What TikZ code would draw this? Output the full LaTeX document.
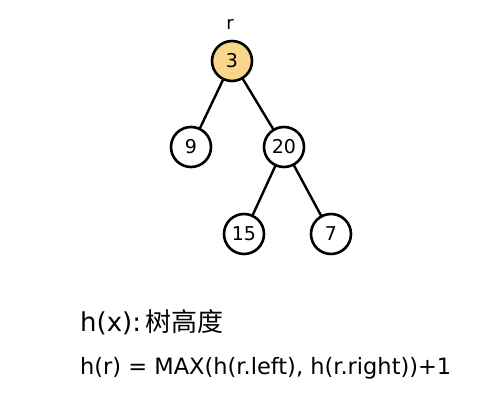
\documentclass[tikz,border=0pt]{standalone}
\usepackage{fontspec}
\setmainfont{DejaVu Sans}
\newfontfamily\cjk{Noto Sans CJK SC}
\definecolor{rootfill}{RGB}{248,214,138}
\begin{document}
\begin{tikzpicture}[x=1pt,y=-1pt,
  tnode/.style={circle,draw=black,line width=2.6pt,minimum size=40pt,inner sep=0pt,fill=white,font=\fontsize{19}{21}\selectfont},
  edge/.style={line width=2.4pt,line cap=round},
  hand/.style={anchor=west,inner sep=0pt}]
\useasboundingbox (0,0) rectangle (490,403);
\node[tnode,fill=rootfill] (r3) at (232,61) {3};
\node[inner sep=0pt,font=\fontsize{18}{20}\selectfont] (rl) at (230,24) {r};
\node[tnode] (n9) at (191,147) {9};
\node[tnode] (n20) at (284,147) {20};
\node[tnode] (n15) at (244,234) {15};
\node[tnode] (n7) at (331,234) {7};
\draw[edge] (r3) -- (n9);
\draw[edge] (r3) -- (n20);
\draw[edge] (n20) -- (n15);
\draw[edge] (n20) -- (n7);
\node[hand,font=\fontsize{26}{30}\selectfont] (t1) at (80,322) {h(x):\,{\cjk 树高度}};
\node[hand,font=\fontsize{22.5}{26}\selectfont] (t2) at (80,368) {h(r) = MAX(h(r.left), h(r.right))+1};
\end{tikzpicture}
\end{document}
